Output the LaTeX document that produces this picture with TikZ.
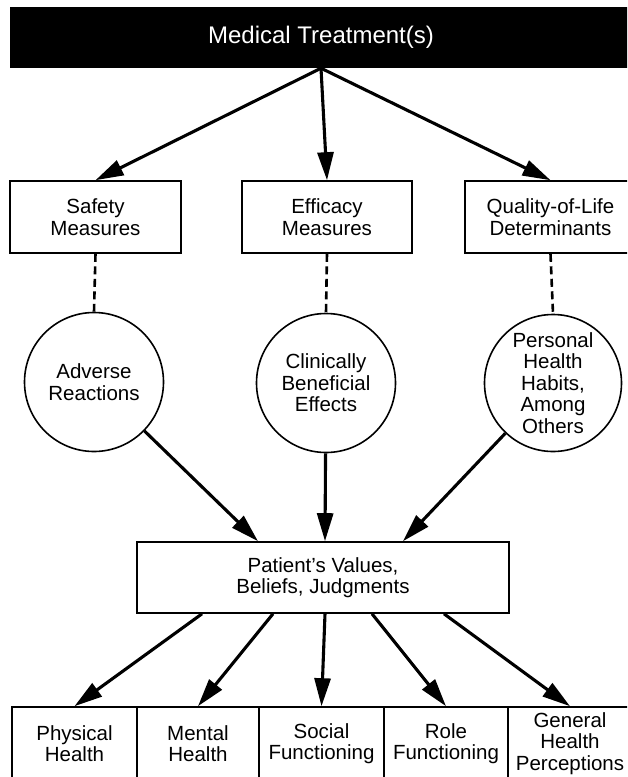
\documentclass[tikz,border=0pt]{standalone}
\usepackage{fontspec}
\setmainfont{Liberation Sans}
\usetikzlibrary{arrows.meta,calc}
\begin{document}
\begin{tikzpicture}[x=1pt,y=-1pt,
  lbl/.style={font=\fontsize{20.5}{21.5}\selectfont,align=center},
  box/.style={lbl,draw,line width=1.6pt,inner sep=0pt},
  topbox/.style={box,minimum width=171pt,minimum height=72pt},
  outbox/.style={box,minimum height=73pt},
  ring/.style={lbl,draw,circle,line width=1.6pt,inner sep=0pt,minimum size=139pt},
  arr/.style={line width=3.1pt,-{Triangle[length=28pt,width=16pt]}},
  link/.style={line width=2.6pt,dash pattern=on 8pt off 4.5pt}
]
% page frame
\clip (0,0) rectangle (627,777);
\fill[white] (0,0) rectangle (627,777);

% heading bar
\node[fill=black,text=white,inner sep=0pt,minimum width=622pt,minimum height=61pt,
      font=\fontsize{24}{26}\selectfont] (treat) at (321,37.5) {Medical Treatment(s)};

% measure groups
\node[topbox] (safety)   at (95.5,217)  {Safety\\Measures};
\node[topbox,minimum width=170pt] (efficacy) at (327,217) {Efficacy\\Measures};
\node[topbox] (quality)  at (550.5,217) {Quality-of-Life\\Determinants};

% outcomes
\node[ring] (adverse)  at (94,382)  {Adverse\\Reactions};
\node[ring] (clinical) at (326,383) {Clinically\\Beneficial\\Effects};
\node[ring,minimum size=137pt] (habits) at (553,383) {Personal\\Health\\Habits,\\Among\\Others};

% patient appraisal
\node[box,minimum width=372pt,minimum height=71pt] (patient) at (323,577.5)
  {Patient's Values,\\Beliefs, Judgments};

% health dimensions
\node[outbox,minimum width=125pt] (physical) at (74.5,743.5) {Physical\\Health};
\node[outbox,minimum width=122pt] (mental)   at (198,743.5)  {Mental\\Health};
\node[outbox,minimum width=125pt] (social)   at (321.5,743.5) {Social\\Functioning};
\node[outbox,minimum width=124pt] (role)     at (446,743.5)  {Role\\Functioning};
\node[outbox,minimum width=124pt] (general)  at (570,743.5)  {General\\Health\\Perceptions};

% connector end points on the patient box
\coordinate (pinA) at ($(patient.north)+(-65,0)$);
\coordinate (pinB) at ($(patient.north)+(2,0)$);
\coordinate (pinC) at ($(patient.north)+(80,0)$);
\coordinate (poutA) at ($(patient.south)+(-121,0)$);
\coordinate (poutB) at ($(patient.south)+(-50,0)$);
\coordinate (poutC) at ($(patient.south)+(2,0)$);
\coordinate (poutD) at ($(patient.south)+(49,0)$);
\coordinate (poutE) at ($(patient.south)+(121,0)$);

% treatment to measures
\draw[arr] (treat.south) -- (safety.north);
\draw[arr] (treat.south) -- (efficacy.north);
\draw[arr] (treat.south) -- (quality.north);

% measures to outcomes
\draw[link] (safety.south) -- (adverse.north);
\draw[link] (efficacy.south) -- (clinical.north);
\draw[link] (quality.south) -- (habits.north);

% outcomes to patient
\draw[arr] (adverse) -- (pinA);
\draw[arr] (clinical) -- (pinB);
\draw[arr] (habits) -- (pinC);

% patient to dimensions
\draw[arr] (poutA) -- (physical.north);
\draw[arr] (poutB) -- (mental.north);
\draw[arr] (poutC) -- (social.north);
\draw[arr] (poutD) -- (role.north);
\draw[arr] (poutE) -- (general.north);
\end{tikzpicture}
\end{document}
